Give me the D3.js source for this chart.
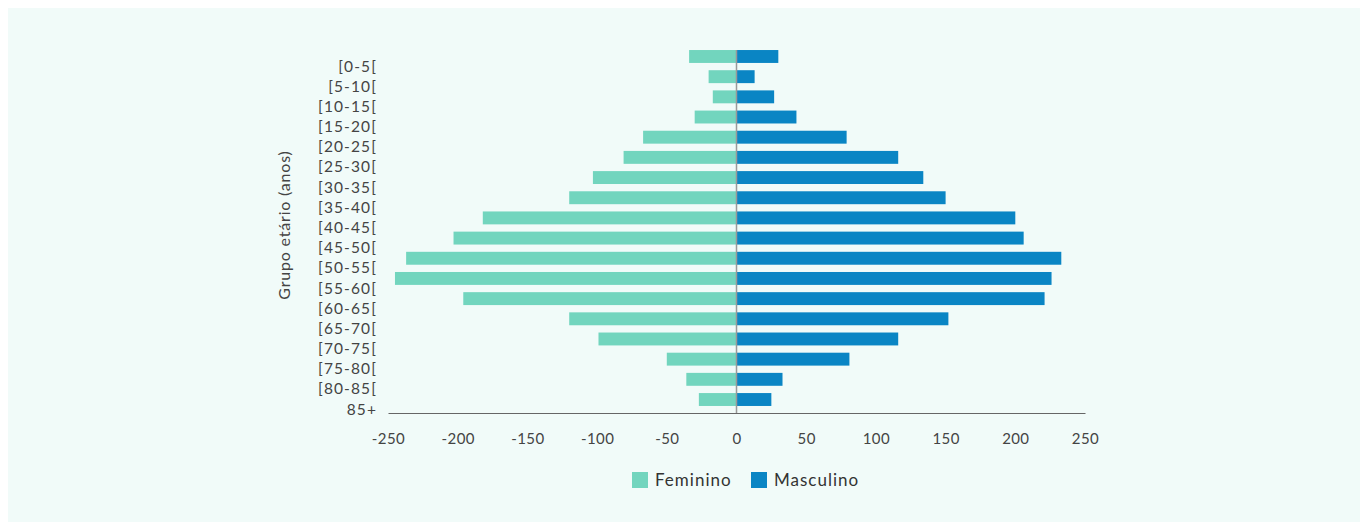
<!DOCTYPE html>
<html><head><meta charset="utf-8">
<script src="https://cdn.jsdelivr.net/npm/d3@7"></script>
<style>html,body{margin:0;padding:0;background:#fff;}svg{display:block;}</style>
</head><body>
<script>
const categories = ["[0-5[","[5-10[","[10-15[","[15-20[","[20-25[","[25-30[","[30-35[","[35-40[","[40-45[","[45-50[","[50-55[","[55-60[","[60-65[","[65-70[","[70-75[","[75-80[","[80-85[","85+"];
const feminino = [34,20,17,30,67,81,103,120,182,203,237,245,196,120,99,50,36,27];
const masculino = [30,13,27,43,79,116,134,150,200,206,233,226,221,152,116,81,33,25];
const xTicks = [-250,-200,-150,-100,-50,0,50,100,150,200,250];
const seriesNames = ["Feminino","Masculino"];
const colors = ["#72D5BE","#0A85C4"];

const W=1360,H=522;
const svg=d3.select("body").append("svg").attr("width",W).attr("height",H);
svg.append("rect").attr("x",8).attr("y",8).attr("width",W-8).attr("height",H-8).attr("fill","#F1FBF9");

const x=d3.scaleLinear().domain([-250,250]).range([388,1085]);
const y=d3.scaleBand().domain(categories).range([46.4,409.6]).paddingInner(0.36).paddingOuter(0.18);
const font="Lato, 'Open Sans', sans-serif";

const g=svg.append("g");
g.selectAll("rect.f").data(categories).join("rect").attr("class","f")
  .attr("x",(d,i)=>x(-feminino[i])).attr("width",(d,i)=>x(0)-x(-feminino[i]))
  .attr("y",d=>y(d)).attr("height",y.bandwidth()).attr("fill",colors[0]);
g.selectAll("rect.m").data(categories).join("rect").attr("class","m")
  .attr("x",x(0)).attr("width",(d,i)=>x(masculino[i])-x(0))
  .attr("y",d=>y(d)).attr("height",y.bandwidth()).attr("fill",colors[1]);

// zero line
g.append("line").attr("x1",x(0)).attr("x2",x(0)).attr("y1",y(categories[0])).attr("y2",413)
  .attr("stroke","#999").attr("stroke-width",1.5);

// x axis
const xa=svg.append("g").attr("transform","translate(0,413)")
  .call(d3.axisBottom(x).tickValues(xTicks).tickSize(0).tickPadding(20).tickFormat(d=>String(d)));
xa.select(".domain").attr("stroke","#666").attr("stroke-width",1.2);
xa.selectAll("text").attr("font-family",font).attr("font-size",15).attr("letter-spacing","0.4px").attr("fill","#444");

// y labels (offset half a step, as in reference)
const ya=svg.append("g").attr("transform",`translate(377,${y.step()/2})`)
  .call(d3.axisLeft(y).tickSize(0).tickPadding(0));
ya.select(".domain").remove();
ya.selectAll("text").attr("font-family",font).attr("font-size",15.5).attr("letter-spacing","1.1px").attr("fill","#444");

svg.append("text").attr("transform","translate(290,225) rotate(-90)").attr("text-anchor","middle")
  .attr("font-family",font).attr("font-size",16).attr("letter-spacing","0.8px").attr("fill","#444").text("Grupo etário (anos)");

// legend
const lx=[632,751];
const lg=svg.selectAll("g.leg").data(seriesNames).join("g").attr("class","leg")
  .attr("transform",(d,i)=>`translate(${lx[i]},472)`);
lg.append("rect").attr("width",16).attr("height",16).attr("fill",(d,i)=>colors[i]);
lg.append("text").attr("x",23).attr("y",8).attr("dy","0.35em").attr("font-family",font)
  .attr("font-size",17).attr("letter-spacing","1px").attr("fill","#333").text(d=>d);
</script>
</body></html>
